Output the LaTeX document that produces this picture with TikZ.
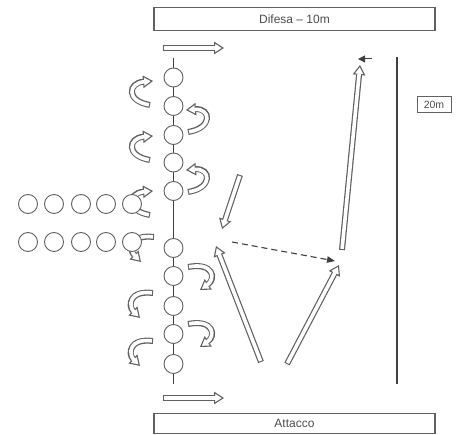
\documentclass[tikz,border=0pt]{standalone}
\usepackage{fontspec}
\setmainfont{Liberation Sans}
\usetikzlibrary{arrows.meta}
\definecolor{ink}{gray}{0.38}
\definecolor{lineink}{gray}{0.25}
% hollow (outlined) arrow: a wide grey stroke with a white core on top
\newcommand\hollowarrow[1]{%
  \draw[hollowouter] #1;
  \draw[hollowinner] #1;}
\tikzset{
  hollowouter/.style={draw=ink, line width=6pt,
    -{Triangle[length=10pt,width=12.5pt,line width=1.1pt,fill=white]}},
  hollowinner/.style={draw=white, line width=3.6pt, shorten >=8.4pt, shorten <=1.1pt},
  player/.style={circle, draw=ink, line width=0.9pt, fill=white,
    minimum size=19pt, inner sep=0pt},
  zone/.style={draw=ink, line width=1.2pt, minimum width=281pt, inner sep=0pt,
    text=black!70, font=\fontsize{12}{14}\selectfont},
}
\begin{document}
\begin{tikzpicture}[x=1pt, y=-1pt]
\useasboundingbox (0,0) rectangle (467,435);

% end zones
\node[zone, minimum height=23pt] (defense) at (294.5,19) {Difesa – 10m};
\node[zone, minimum height=20pt] (attack) at (294.5,423.5) {Attacco};

% run direction arrows along the spine
\coordinate (runTopA) at (163,48);  \coordinate (runTopB) at (224,48);
\coordinate (runBotA) at (163,398); \coordinate (runBotB) at (224,398);
\hollowarrow{(runTopA) -- (runTopB)}
\hollowarrow{(runBotA) -- (runBotB)}

% central spine
\coordinate (spineTop) at (173.5,58);
\coordinate (spineBot) at (173.5,384);
\draw[lineink, line width=1pt] (spineTop) -- (spineBot);

% 20 m marker line
\coordinate (markTop) at (397,57);
\coordinate (markBot) at (397,384);
\draw[lineink, line width=1.3pt] (markTop) -- (markBot);
\node[draw=ink, line width=0.9pt, minimum width=34pt, minimum height=16pt,
  inner sep=1pt, text=black!70, font=\fontsize{10.5}{12}\selectfont] (dist) at (434,104.5) {20m};

% rotation arrows, upper half
\hollowarrow{(150,105) .. controls (126,101) and (128,83) .. (153,81)}
\hollowarrow{(150,160) .. controls (126,156) and (128,138) .. (153,136)}
\hollowarrow{(150,215) .. controls (126,211) and (128,193) .. (153,191)}
\hollowarrow{(188,132) .. controls (213,128) and (211,108) .. (186,110)}
\hollowarrow{(188,192) .. controls (213,188) and (211,168) .. (186,170)}

% rotation arrows, lower half
\hollowarrow{(154,237) .. controls (130,234) and (129,250) .. (141,262)}
\hollowarrow{(153,293) .. controls (129,290) and (128,306) .. (140,318)}
\hollowarrow{(153,341) .. controls (129,338) and (128,354) .. (140,366)}
\hollowarrow{(188,267) .. controls (214,262) and (216,279) .. (200,290)}
\hollowarrow{(188,324) .. controls (214,319) and (216,336) .. (200,347)}

% players on the spine
\foreach \n/\yy in {1/77.5,2/106,3/135,4/162.5,5/191,6/248,7/276,8/306,9/334,10/364}
  \node[player] (s\n) at (173.5,\yy) {};

% waiting rows
\foreach \n/\xx in {1/28,2/54,3/81,4/106,5/132}{
  \node[player] (a\n) at (\xx,204) {};
  \node[player] (b\n) at (\xx,242) {};
}

% runs on the right side
\coordinate (cutA) at (240,175);  \coordinate (cutB) at (222,229);
\coordinate (legLA) at (261,362); \coordinate (legLB) at (216,246);
\coordinate (legRA) at (287,364); \coordinate (legRB) at (339,265);
\coordinate (longA) at (342,250); \coordinate (longB) at (360,65);
\hollowarrow{(cutA) -- (cutB)}
\hollowarrow{(legLA) -- (legLB)}
\hollowarrow{(legRA) -- (legRB)}
\hollowarrow{(longA) -- (longB)}

% pass
\coordinate (passA) at (232,242); \coordinate (passB) at (335,261);
\draw[lineink, line width=1.1pt, dash pattern=on 6pt off 4pt,
  -{Triangle[length=8pt,width=6.5pt]}] (passA) -- (passB);

% small pointer at the top of the long run
\coordinate (ptrA) at (372,59); \coordinate (ptrB) at (358,59);
\draw[lineink, line width=1pt, -{Triangle[length=7pt,width=7pt]}] (ptrA) -- (ptrB);
\end{tikzpicture}
\end{document}
